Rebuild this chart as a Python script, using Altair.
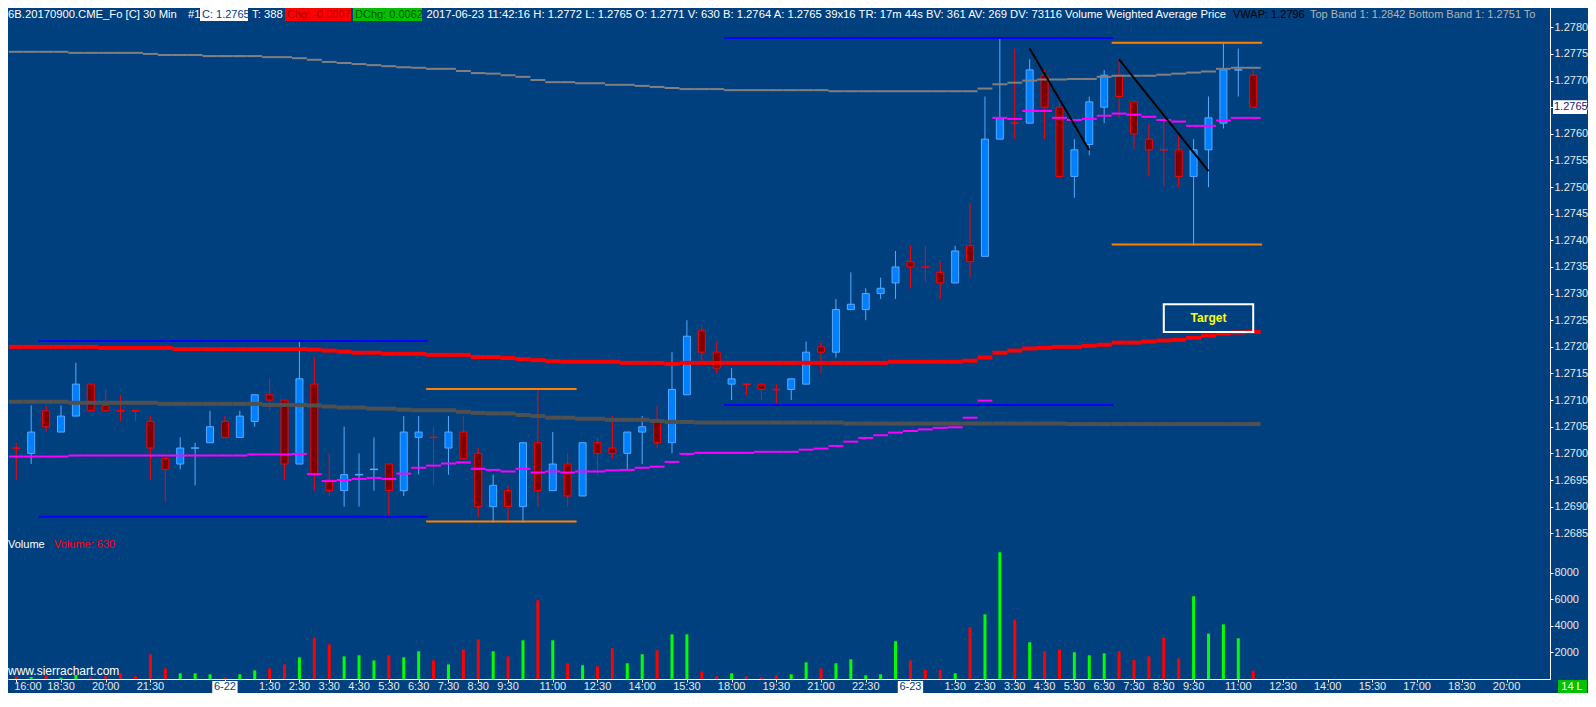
import altair as alt
import pandas as pd

# ---------------- values ----------------
opens = [1.2701, 1.2700, 1.2708, 1.2704, 1.2707, 1.2713, 1.2709, 1.2708, 1.2708, 1.2706,
         1.2699, 1.2698, 1.2701, 1.2702, 1.2706, 1.2703, 1.2706, 1.2711, 1.2710, 1.2698,
         1.2713, 1.2695, 1.2693, 1.2696, 1.2697, 1.2698, 1.2693, 1.2703, 1.2703, 1.2701,
         1.2704, 1.2700, 1.2690, 1.2693, 1.2690, 1.2702, 1.2693, 1.2698, 1.2692, 1.2702,
         1.2701, 1.2700, 1.2704, 1.2706, 1.2702, 1.2711, 1.2723, 1.2719, 1.2713, 1.2713,
         1.2713, 1.2712, 1.2712, 1.2713, 1.2720, 1.2719, 1.2727, 1.2727, 1.2730, 1.2732,
         1.2736, 1.2735, 1.2734, 1.2732, 1.2739, 1.2737, 1.2759, 1.2762, 1.2762, 1.2771,
         1.2765, 1.2752, 1.2758, 1.2765, 1.2771, 1.2766, 1.2759, 1.2757, 1.2757, 1.2752,
         1.2757, 1.2762, 1.2772, 1.2771]
highs = [1.2702, 1.2709, 1.2709, 1.2709, 1.2717, 1.2713, 1.2712, 1.2711, 1.2708, 1.2707,
         1.2699, 1.2703, 1.2702, 1.2708, 1.2707, 1.2708, 1.2711, 1.2714, 1.2710, 1.2721,
         1.2718, 1.2700, 1.2705, 1.2700, 1.2703, 1.2698, 1.2707, 1.2707, 1.2705, 1.2707,
         1.2707, 1.2701, 1.2696, 1.2694, 1.2702, 1.2712, 1.2704, 1.2700, 1.2702, 1.2703,
         1.2707, 1.2704, 1.2707, 1.2709, 1.2719, 1.2725, 1.2724, 1.2721, 1.2716, 1.2713,
         1.2713, 1.2713, 1.2714, 1.2721, 1.2721, 1.2729, 1.2734, 1.2731, 1.2733, 1.2738,
         1.2739, 1.2739, 1.2736, 1.2739, 1.2747, 1.2767, 1.2778, 1.2776, 1.2774, 1.2772,
         1.2766, 1.2759, 1.2767, 1.2772, 1.2774, 1.2766, 1.2762, 1.2763, 1.2760, 1.2759,
         1.2767, 1.2777, 1.2776, 1.2772]
lows = [1.2695, 1.2698, 1.2704, 1.2704, 1.2707, 1.2708, 1.2708, 1.2706, 1.2706, 1.2695,
        1.2691, 1.2697, 1.2694, 1.2702, 1.2703, 1.2703, 1.2705, 1.2708, 1.2695, 1.2698,
        1.2693, 1.2692, 1.2690, 1.2690, 1.2693, 1.2688, 1.2692, 1.2696, 1.2694, 1.2696,
        1.2699, 1.2688, 1.2687, 1.2687, 1.2687, 1.2690, 1.2693, 1.2690, 1.2692, 1.2696,
        1.2699, 1.2697, 1.2698, 1.2701, 1.2700, 1.2711, 1.2717, 1.2715, 1.2710, 1.2711,
        1.2710, 1.2709, 1.2710, 1.2713, 1.2715, 1.2718, 1.2727, 1.2725, 1.2729, 1.2729,
        1.2731, 1.2732, 1.2729, 1.2732, 1.2733, 1.2737, 1.2759, 1.2759, 1.2762, 1.2759,
        1.2752, 1.2748, 1.2756, 1.2762, 1.2763, 1.2757, 1.2752, 1.2750, 1.2750, 1.2739,
        1.2750, 1.2761, 1.2767, 1.2765]
closes = [1.2701, 1.2704, 1.2705, 1.2707, 1.2713, 1.2708, 1.2708, 1.2708, 1.2708, 1.2701,
          1.2697, 1.2701, 1.2701, 1.2705, 1.2703, 1.2707, 1.2711, 1.2710, 1.2698, 1.2714,
          1.2696, 1.2693, 1.2696, 1.2696, 1.2697, 1.2693, 1.2704, 1.2704, 1.2703, 1.2704,
          1.2699, 1.2690, 1.2694, 1.2690, 1.2702, 1.2693, 1.2698, 1.2692, 1.2702, 1.2700,
          1.2700, 1.2704, 1.2705, 1.2702, 1.2712, 1.2722, 1.2719, 1.2716, 1.2714, 1.2713,
          1.2712, 1.2712, 1.2714, 1.2719, 1.2719, 1.2727, 1.2728, 1.2730, 1.2731, 1.2735,
          1.2735, 1.2735, 1.2732, 1.2738, 1.2736, 1.2759, 1.2763, 1.2762, 1.2772, 1.2765,
          1.2752, 1.2757, 1.2766, 1.2771, 1.2767, 1.2760, 1.2757, 1.2757, 1.2752, 1.2757,
          1.2763, 1.2772, 1.2772, 1.2765]
doji_up_bars = [12, 23, 24, 82]
volumes = [200, 150, 250, 100, 300, 150, 200, 425, 200, 1855,
           800, 425, 425, 350, 125, 350, 650, 800, 1100, 1630,
           3110, 2610, 1700, 1780, 1400, 1780, 1630, 2080, 1400, 1100,
           2230, 2980, 2080, 1700, 2910, 5920, 2910, 1180, 1030, 950,
           2310, 1180, 1860, 2160, 3360, 3360, 580, 200, 425, 200,
           125, 275, 350, 1250, 800, 1180, 1480, 280, 350, 2830,
           1400, 680, 680, 430, 3890, 4860, 9530, 4460, 2760, 2080,
           2230, 2010, 1780, 1930, 2080, 1430, 1700, 3130, 1550, 6220,
           3410, 4110, 3060, 630]
sma_values = [1.27097, 1.27097, 1.27097, 1.27097, 1.27095, 1.27095, 1.27095, 1.27095, 1.27095, 1.27095,
              1.27093, 1.27093, 1.27093, 1.27093, 1.27093, 1.27093, 1.27093, 1.27091, 1.27091, 1.27091,
              1.27090, 1.27088, 1.27086, 1.27086, 1.27084, 1.27084, 1.27082, 1.27081, 1.27081, 1.27081,
              1.27078, 1.27076, 1.27075, 1.27075, 1.27072, 1.27070, 1.27067, 1.27067, 1.27065, 1.27065,
              1.27063, 1.27063, 1.27063, 1.27061, 1.27059, 1.27059, 1.27058, 1.27058, 1.27058, 1.27058,
              1.27058, 1.27058, 1.27058, 1.27058, 1.27058, 1.27058, 1.27056, 1.27056, 1.27056, 1.27056,
              1.27056, 1.27056, 1.27056, 1.27056, 1.27056, 1.27056, 1.27056, 1.27056, 1.27056, 1.27056,
              1.27056, 1.27055, 1.27055, 1.27055, 1.27055, 1.27055, 1.27055, 1.27055, 1.27055, 1.27055,
              1.27055, 1.27055, 1.27055, 1.27055]
upper_values = [1.27754, 1.27754, 1.27754, 1.27754, 1.27752, 1.27752, 1.27752, 1.27752, 1.27752, 1.27750,
                1.27748, 1.27748, 1.27748, 1.27746, 1.27746, 1.27746, 1.27746, 1.27744, 1.27744, 1.27742,
                1.27739, 1.27735, 1.27733, 1.27731, 1.27729, 1.27727, 1.27725, 1.27724, 1.27722, 1.27722,
                1.27718, 1.27714, 1.27713, 1.27710, 1.27707, 1.27701, 1.27697, 1.27697, 1.27695, 1.27695,
                1.27692, 1.27692, 1.27690, 1.27688, 1.27686, 1.27684, 1.27684, 1.27684, 1.27682, 1.27682,
                1.27682, 1.27682, 1.27682, 1.27682, 1.27682, 1.27680, 1.27680, 1.27680, 1.27680, 1.27680,
                1.27680, 1.27680, 1.27680, 1.27680, 1.27680, 1.27685, 1.27693, 1.27696, 1.27700, 1.27702,
                1.27702, 1.27703, 1.27703, 1.27707, 1.27709, 1.27709, 1.27709, 1.27711, 1.27713, 1.27715,
                1.27717, 1.27722, 1.27724, 1.27724]
red_values = [1.27200, 1.27200, 1.27200, 1.27200, 1.27200, 1.27200, 1.27198, 1.27198, 1.27198, 1.27198,
              1.27198, 1.27196, 1.27196, 1.27196, 1.27196, 1.27196, 1.27196, 1.27196, 1.27196, 1.27196,
              1.27195, 1.27193, 1.27191, 1.27189, 1.27189, 1.27187, 1.27187, 1.27187, 1.27185, 1.27185,
              1.27185, 1.27181, 1.27181, 1.27179, 1.27177, 1.27175, 1.27173, 1.27172, 1.27172, 1.27172,
              1.27172, 1.27170, 1.27170, 1.27170, 1.27168, 1.27170, 1.27170, 1.27170, 1.27170, 1.27170,
              1.27170, 1.27170, 1.27170, 1.27170, 1.27170, 1.27170, 1.27170, 1.27170, 1.27170, 1.27172,
              1.27172, 1.27172, 1.27172, 1.27172, 1.27174, 1.27180, 1.27189, 1.27193, 1.27197, 1.27198,
              1.27200, 1.27200, 1.27202, 1.27204, 1.27208, 1.27208, 1.27210, 1.27212, 1.27213, 1.27217,
              1.27221, 1.27225, 1.27227, 1.27228]
vwap_values = [1.26994, 1.26994, 1.26994, 1.26994, 1.26996, 1.26996, 1.26996, 1.26996, 1.26996, 1.26996,
               1.26996, 1.26996, 1.26996, 1.26996, 1.26996, 1.26996, 1.26998, 1.26998, 1.26998, 1.26999,
               1.26961, 1.26948, 1.26950, 1.26952, 1.26954, 1.26952, 1.26962, 1.26973, 1.26977, 1.26981,
               1.26983, 1.26971, 1.26969, 1.26966, 1.26971, 1.26964, 1.26966, 1.26964, 1.26966, 1.26966,
               1.26968, 1.26969, 1.26973, 1.26975, 1.26984, 1.26999, 1.27001, 1.27001, 1.27001, 1.27001,
               1.27003, 1.27003, 1.27003, 1.27007, 1.27009, 1.27014, 1.27022, 1.27029, 1.27034, 1.27039,
               1.27042, 1.27045, 1.27048, 1.27049, 1.27067, 1.27099, 1.27630, 1.27628, 1.27643, 1.27643,
               1.27630, 1.27626, 1.27628, 1.27634, 1.27638, 1.27636, 1.27632, 1.27626, 1.27623, 1.27615,
               1.27615, 1.27625, 1.27630, 1.27630]

# hand-drawn tool lines (bar index / price)
draw_x1 = [1.5, 1.5, 27.5, 27.5, 47.5, 47.5, 73.5, 73.5, 68.0, 74.0]
draw_x2 = [27.6, 27.6, 37.6, 37.6, 73.6, 73.6, 83.6, 83.6, 72.0, 80.0]
draw_p1 = [1.27211, 1.26881, 1.27121, 1.26872, 1.27780, 1.27091, 1.27771, 1.27392, 1.27760, 1.27740]
draw_p2 = [1.27211, 1.26881, 1.27121, 1.26872, 1.27780, 1.27091, 1.27771, 1.27392, 1.27569, 1.27530]
draw_kind = ["blue", "blue", "orange", "orange", "blue", "blue", "orange", "orange", "black", "black"]
target_bars = [77, 83]
target_prices = [1.27228, 1.27280]

x_label_bars = [0, 3, 6, 9, 14, 17, 19, 21, 23, 25, 27, 29, 31, 33, 36, 39, 42, 45, 48, 51,
                54, 57, 60, 63, 65, 67, 69, 71, 73, 75, 77, 79, 82, 85, 88, 91, 94, 97, 100]
x_label_texts = ["16:00", "18:30", "20:00", "21:30", "6-22", "1:30", "2:30", "3:30", "4:30", "5:30",
                 "6:30", "7:30", "8:30", "9:30", "11:00", "12:30", "14:00", "15:30", "18:00", "19:30",
                 "21:00", "22:30", "6-23", "1:30", "2:30", "3:30", "4:30", "5:30", "6:30", "7:30",
                 "8:30", "9:30", "11:00", "12:30", "14:00", "15:30", "17:00", "18:30", "20:00"]
price_ticks = [1.2685, 1.2690, 1.2695, 1.2700, 1.2705, 1.2710, 1.2715, 1.2720, 1.2725, 1.2730,
               1.2735, 1.2740, 1.2745, 1.2750, 1.2755, 1.2760, 1.2765, 1.2770, 1.2775, 1.2780]
vol_ticks = [2000, 4000, 6000, 8000]

n = len(opens)
for arr in (highs, lows, closes, volumes, sma_values, upper_values, red_values, vwap_values):
    assert len(arr) == n, len(arr)
assert len(x_label_bars) == len(x_label_texts)

# ---------------- layout / style ----------------
W, H = 1542, 671
BG = "#00407f"
FONT = "Liberation Sans"
HFS = 11.25
PX_PER_PRICE = 53260.0
P_TOP = 1.2780 + 19.3 / PX_PER_PRICE
P_BOT = 1.2780 - (H - 19.3) / PX_PER_PRICE
VOL_PER_PX = 75.19
X_LO = -0.22
X_HI = X_LO + W / 15.0
LABEL_MIN = X_LO + 15.0 / 15.0   # keep the first time label inside the chart

xs = alt.Scale(domain=[X_LO, X_HI], nice=False, zero=False)
ps = alt.Scale(domain=[P_BOT, P_TOP], nice=False, zero=False)
vs = alt.Scale(domain=[0, H * VOL_PER_PX], nice=False, zero=True)

xaxis = alt.Axis(values=x_label_bars, labels=False, tickSize=3, tickColor="white",
                 domainColor="white", grid=False, title=None)
axis_style = dict(orient="right", tickSize=3, labelPadding=1, labelFontSize=11, labelFont=FONT,
                  labelColor="#e8e8e8", tickColor="white", domainColor="white", grid=False,
                  title=None, labelOverlap=False)
paxis = alt.Axis(values=price_ticks, format=".4f", **axis_style)
vaxis = alt.Axis(values=vol_ticks, format="d", **axis_style)


def X(f):
    return alt.X(f, type="quantitative", scale=xs, axis=xaxis)


def PY(f):
    return alt.Y(f, type="quantitative", scale=ps, axis=paxis)


up = [(c > o) or (c == o and i in doji_up_bars) for i, (o, c) in enumerate(zip(opens, closes))]
candles = pd.DataFrame({
    "i": list(range(n)), "open": opens, "high": highs, "low": lows, "close": closes,
    "vol": volumes,
    "fill": ["#0080ff" if u else "#800000" for u in up],
    "edge": ["#55aaff" if u else "#ff0000" for u in up],
    "vcol": ["#00ff00" if u else "#ff0000" for u in up],
})
candles["top"] = candles[["open", "close"]].max(axis=1)
candles["bot"] = candles[["open", "close"]].min(axis=1)
candles["doji"] = candles["open"] == candles["close"]

base = alt.Chart(candles)
wicks = base.mark_rule(strokeWidth=1).encode(
    x=X("i"), y=PY("low"), y2="high:Q", color=alt.Color("edge:N", scale=None))
bodies = base.transform_filter("!datum.doji").mark_bar(size=7, strokeWidth=1).encode(
    x=X("i"), y=PY("top"), y2="bot:Q",
    fill=alt.Fill("fill:N", scale=None), stroke=alt.Stroke("edge:N", scale=None))
dojis = base.transform_filter("datum.doji").transform_calculate(
    xa="datum.i - 0.27", xb="datum.i + 0.27").mark_rule(strokeWidth=1.5).encode(
    x=X("xa"), x2="xb:Q", y=PY("open"), color=alt.Color("edge:N", scale=None))

series = [(sma_values, "#505050", 4), (upper_values, "#808080", 2),
          (red_values, "#ff0000", 4), (vwap_values, "#ff00ff", 2)]
steps = pd.concat([pd.DataFrame({"i": list(range(n)), "v": vals, "c": col, "w": wd, "s": k})
                   for k, (vals, col, wd) in enumerate(series)], ignore_index=True)
step_layer = alt.Chart(steps).transform_calculate(
    xa="datum.i - 0.5", xb="datum.i + 0.5").mark_rule().encode(
    x=X("xa"), x2="xb:Q", y=PY("v"), color=alt.Color("c:N", scale=None),
    strokeWidth=alt.StrokeWidth("w:Q", scale=None), order="s:Q")

kind_color = {"blue": "#0000ff", "orange": "#ff8000", "black": "#000000"}
drawings = pd.DataFrame({"x1": draw_x1, "x2": draw_x2, "p1": draw_p1, "p2": draw_p2,
                         "c": [kind_color[k] for k in draw_kind]})
draw_layer = alt.Chart(drawings).mark_rule(strokeWidth=2).encode(
    x=X("x1"), x2="x2:Q", y=PY("p1"), y2="p2:Q", color=alt.Color("c:N", scale=None))

target_df = pd.DataFrame({"x1": [target_bars[0]], "x2": [target_bars[1]],
                          "p1": [target_prices[0]], "p2": [target_prices[1]], "t": ["Target"]})
target_box = alt.Chart(target_df).mark_rect(fillOpacity=0, stroke="white", strokeWidth=2).encode(
    x=X("x1"), x2="x2:Q", y=PY("p1"), y2="p2:Q")
target_text = alt.Chart(target_df).transform_calculate(
    xm="(datum.x1 + datum.x2) / 2", pm="(datum.p1 + datum.p2) / 2").mark_text(
    font=FONT, fontSize=12, fontWeight="bold", color="#ffff00").encode(
    x=X("xm"), y=PY("pm"), text="t:N")

cur_df = pd.DataFrame({"p": [closes[-1]], "lab": [f"{closes[-1]:.4f}"]})
cur_box = alt.Chart(cur_df).transform_calculate(
    plo="datum.p - 0.00013", phi="datum.p + 0.00013").mark_rect(color="white").encode(
    x=alt.value(W + 3), x2=alt.value(W + 37), y=PY("plo"), y2="phi:Q")
cur_text = alt.Chart(cur_df).mark_text(font=FONT, fontSize=11, align="left",
                                       color="#202070").encode(
    x=alt.value(W + 4), y=PY("p"), text="lab:N")

price_group = alt.layer(wicks, bodies, dojis, step_layer, draw_layer, target_box, target_text,
                        cur_box, cur_text)

# ---------------- volume pane & annotations ----------------
vol_bars = base.mark_bar(size=3).encode(
    x=X("i"), y=alt.Y("vol:Q", scale=vs, axis=vaxis), color=alt.Color("vcol:N", scale=None))

xlab = pd.DataFrame({"bar": x_label_bars, "label": x_label_texts})
xlab["date"] = xlab["label"].str.contains("-")
xlab["tc"] = ["#00407f" if d else "#e8e8e8" for d in xlab["date"]]
xlab_box = alt.Chart(xlab).transform_filter("datum.date").transform_calculate(
    xa="datum.bar - 0.85", xb="datum.bar + 0.85").mark_rect(color="white").encode(
    x=X("xa"), x2="xb:Q", y=alt.value(H + 2), y2=alt.value(H + 14))
xlab_text = alt.Chart(xlab).transform_calculate(
    pos=f"max(datum.bar, {LABEL_MIN})").mark_text(font=FONT, fontSize=11,
                                                    baseline="middle").encode(
    x=X("pos"), y=alt.value(H + 8), text="label:N", color=alt.Color("tc:N", scale=None))

header_boxes = pd.DataFrame({"x1": [192, 277, 345], "x2": [240, 343, 414],
                             "c": ["#ffffff", "#ff0000", "#00c000"]})
hbox_layer = alt.Chart(header_boxes).mark_rect().encode(
    x=alt.X("x1:Q", scale=None, axis=None), x2="x2:Q", y=alt.value(0), y2=alt.value(13),
    color=alt.Color("c:N", scale=None))
header = pd.DataFrame({
    "px": [0, 180, 194, 244, 279, 347, 418.5, 1225, 1302],
    "t": ["6B.20170900.CME_Fo [C]  30 Min", "#1", "C: 1.2765", "T: 388", "Chg: -0.0007",
          "DChg: 0.0062",
          "2017-06-23 11:42:16 H: 1.2772 L: 1.2765 O: 1.2771 V: 630 B: 1.2764 A: 1.2765 39x16 "
          "TR: 17m 44s BV: 361 AV: 269 DV: 73116  Volume Weighted Average Price",
          "VWAP: 1.2796", "Top Band 1: 1.2842  Bottom Band 1: 1.2751  To"],
    "c": ["#ffffff", "#ffffff", "#00407f", "#ffffff", "#b00000", "#005000", "#ffffff",
          "#000000", "#b4b4b4"],
    "fs": [HFS, HFS, 11, HFS, 11, 11, HFS, 11, 11],
})
header_layer = alt.Chart(header).mark_text(font=FONT, align="left",
                                           baseline="middle").encode(
    x=alt.X("px:Q", scale=None, axis=None), y=alt.value(6.5), text="t:N",
    color=alt.Color("c:N", scale=None), size=alt.Size("fs:Q", scale=None))

pane_text = pd.DataFrame({
    "px": [0, 46, 0],
    "py": [H - 134, H - 134, H - 8],
    "t": ["Volume", "Volume: 630", "www.sierrachart.com"],
    "c": ["#ffffff", "#ff0000", "#ffffff"],
    "fs": [11, 11, 12],
})
pane_layer = alt.Chart(pane_text).mark_text(font=FONT, align="left", baseline="middle").encode(
    x=alt.X("px:Q", scale=None, axis=None), y=alt.Y("py:Q", scale=None, axis=None),
    text="t:N", color=alt.Color("c:N", scale=None), size=alt.Size("fs:Q", scale=None))

corner = pd.DataFrame({"t": ["14 L"]})
corner_box = alt.Chart(corner).mark_rect(color="#00c000").encode(
    x=alt.value(W + 8), x2=alt.value(W + 37), y=alt.value(H + 1), y2=alt.value(H + 14))
corner_text = alt.Chart(corner).mark_text(font=FONT, fontSize=11, color="white").encode(
    x=alt.value(W + 22), y=alt.value(H + 8), text="t:N")

vol_group = alt.layer(vol_bars, xlab_box, xlab_text, hbox_layer, header_layer, pane_layer,
                      corner_box, corner_text)

chart = alt.layer(price_group, vol_group).resolve_scale(y="independent").properties(
    width=W, height=H, background=BG,
    padding={"left": 0, "top": 0, "right": 38, "bottom": 14},
    autosize=alt.AutoSizeParams(type="none"),
).configure_view(stroke=None, fill=BG).configure_text(font=FONT)

chart.save("out.html", embed_options={"renderer": "svg", "actions": False})
